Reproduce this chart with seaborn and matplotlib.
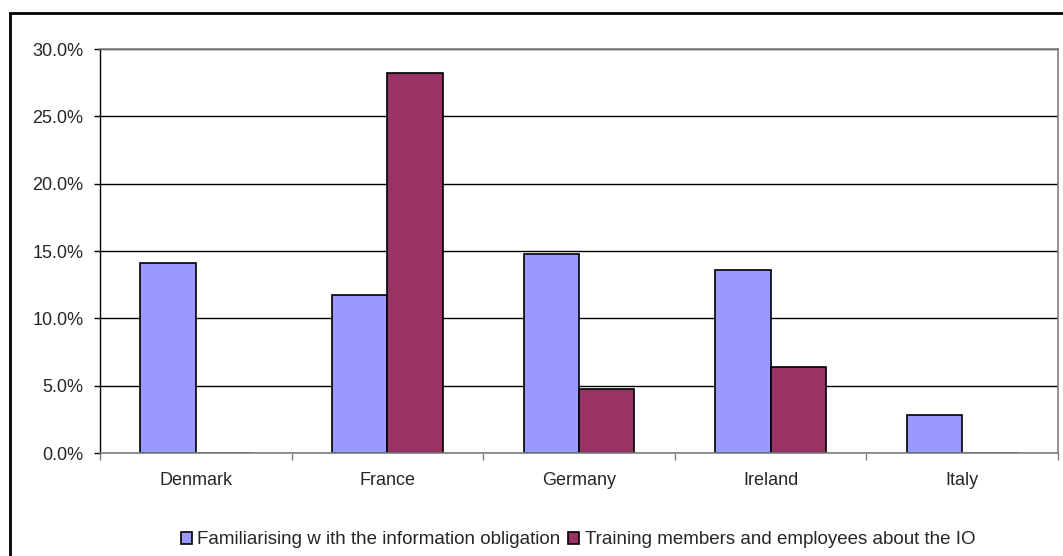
import numpy as np
import pandas as pd
import matplotlib
matplotlib.use("Agg")
import matplotlib.pyplot as plt
import seaborn as sns
from matplotlib.patches import Rectangle
from matplotlib.ticker import FuncFormatter, FixedLocator

countries = ['Denmark', 'France', 'Germany', 'Ireland', 'Italy']
familiarising = [14.1, 11.7, 14.8, 13.6, 2.8]
training = [0.0, 28.2, 4.75, 6.4, 0.0]
series = ['Familiarising w ith the information obligation',
          'Training members and employees about the IO']

df = pd.DataFrame({
    'country': countries * 2,
    'value': familiarising + training,
    'series': [series[0]] * len(countries) + [series[1]] * len(countries),
})

sns.set_style("white")
plt.rcParams['font.family'] = ['Liberation Sans', 'DejaVu Sans']

fig = plt.figure(figsize=(10.63, 5.56), dpi=100)
ax = fig.add_axes([100 / 1063, 1 - 453 / 556, 958 / 1063, 404 / 556])

sns.barplot(data=df, x='country', y='value', hue='series',
            palette=['#9999FF', '#993366'], width=0.578,
            edgecolor='black', linewidth=1.2, saturation=1, ax=ax)

ax.set_ylim(0, 30)
ax.set_xlim(-0.5, len(countries) - 0.5)
ax.set_yticks(np.arange(0, 30.1, 5))
ax.yaxis.set_major_formatter(FuncFormatter(lambda v, p: f'{v:.1f}%'))
ax.yaxis.grid(True, color='black', linewidth=1)
ax.set_axisbelow(True)
ax.set_xlabel('')
ax.set_ylabel('')

ax.tick_params(axis='y', direction='out', length=4, width=1, color='black',
               labelsize=13, left=True, pad=8)
ax.tick_params(axis='x', which='major', length=0, labelsize=13, pad=14)
ax.xaxis.set_minor_locator(FixedLocator(np.arange(-0.5, len(countries), 1)))
ax.tick_params(axis='x', which='minor', direction='out', length=5, width=1,
               color='#808080', bottom=True)

for side in ['top', 'right', 'bottom']:
    ax.spines[side].set_color('#808080')
    ax.spines[side].set_linewidth(1.2)
ax.spines['left'].set_color('black')
ax.spines['left'].set_linewidth(1)

handles, labels = ax.get_legend_handles_labels()
ax.legend(handles, labels, loc='center', bbox_to_anchor=(578 / 1063, 16 / 556),
          bbox_transform=fig.transFigure, ncol=2, frameon=False,
          fontsize=13.5, handlelength=0.6, handleheight=0.6,
          handletextpad=0.3, columnspacing=0.4)

fig.patches.append(Rectangle((10 / 1063, -0.05), 1.1, 1 - 13 / 556 + 0.05,
                             transform=fig.transFigure, fill=False,
                             edgecolor='black', linewidth=2))

fig.savefig('out.png', dpi=100)
